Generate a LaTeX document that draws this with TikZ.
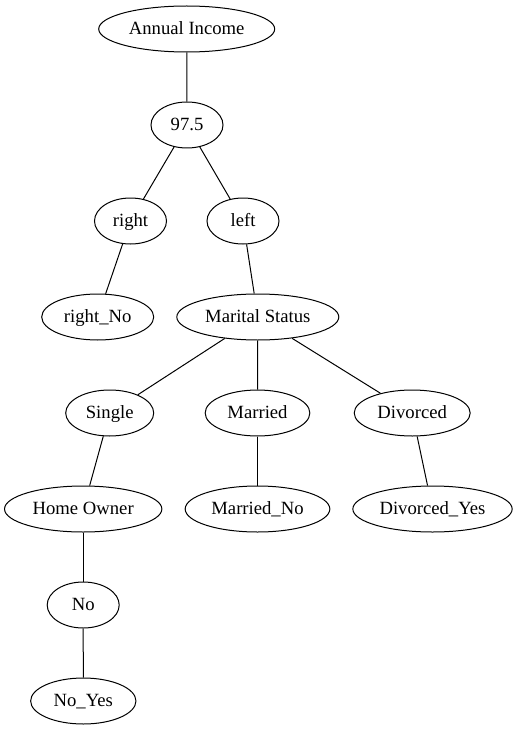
\documentclass[tikz,border=0pt]{standalone}
\usepackage{fontspec}
\setmainfont{Liberation Serif}
\usetikzlibrary{shapes.geometric}

\begin{document}
\begin{tikzpicture}[x=0.75pt, y=-0.75pt, line width=0.75pt,
    every node/.style={draw, ellipse, inner sep=0pt, minimum height=34.5pt,
      text height=11pt, text depth=3pt,
      font=\fontsize{14pt}{16pt}\selectfont}]
    \useasboundingbox (0,0) rectangle (527,731);
    \node[minimum width=132pt] (inc) at (186.7,29) {Annual Income};
    \node[minimum width=54pt] (thr) at (187,125) {97.5};
    \node[minimum width=54pt] (rgt) at (130.5,221) {right};
    \node[minimum width=54pt] (lft) at (243,221) {left};
    \node[minimum width=84pt] (rno) at (97.7,317) {right\_No};
    \node[minimum width=121.5pt] (mar) at (257.8,317) {Marital Status};
    \node[minimum width=66pt] (sgl) at (109.7,413) {Single};
    \node[minimum width=78.5pt] (mrd) at (257.5,413) {Married};
    \node[minimum width=87pt] (dvc) at (412.2,413) {Divorced};
    \node[minimum width=118pt] (hom) at (83.2,509) {Home Owner};
    \node[minimum width=108.5pt] (mno) at (257.5,509) {Married\_No};
    \node[minimum width=119.5pt] (dys) at (432.5,509) {Divorced\_Yes};
    \node[minimum width=54pt] (no) at (83.2,605) {No};
    \node[minimum width=79pt] (nys) at (83.3,701) {No\_Yes};
    \draw (inc) -- (thr);
    \draw (thr) -- (rgt);
    \draw (thr) -- (lft);
    \draw (rgt) -- (rno);
    \draw (lft) -- (mar);
    \draw (mar) -- (sgl);
    \draw (mar) -- (mrd);
    \draw (mar) -- (dvc);
    \draw (sgl) -- (hom);
    \draw (mrd) -- (mno);
    \draw (dvc) -- (dys);
    \draw (hom) -- (no);
    \draw (no) -- (nys);
  \end{tikzpicture}
\end{document}
